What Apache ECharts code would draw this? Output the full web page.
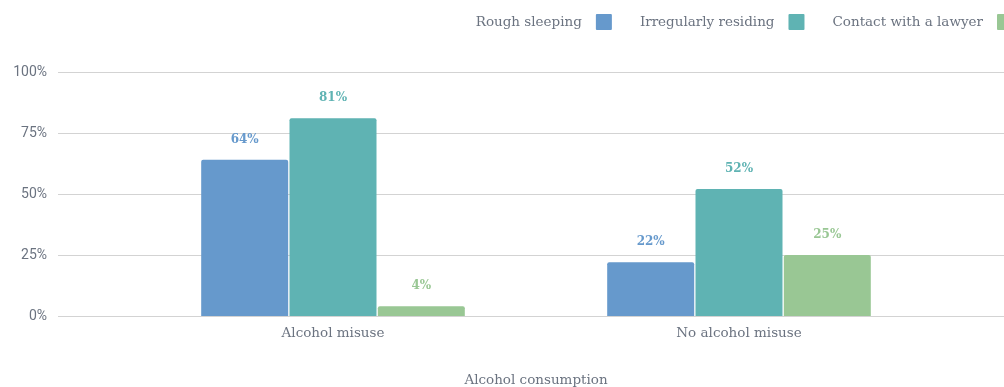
<!DOCTYPE html>
<html><head><meta charset="utf-8">
<script src="https://cdn.jsdelivr.net/npm/echarts@6/dist/echarts.min.js"></script>
<style>html,body{margin:0;padding:0;background:#fff;}#c{width:1004px;height:387px;}</style>
</head><body><div id="c"></div>
<script>
const categories = ['Alcohol misuse', 'No alcohol misuse'];
const seriesNames = ['Rough sleeping', 'Irregularly residing', 'Contact with a lawyer'];
const roughSleeping = [64, 22];
const irregularlyResiding = [81, 52];
const contactLawyer = [4, 25];
const yTicks = [0, 25, 50, 75, 100];
const colors = ['#6699cc', '#5fb3b3', '#99c794'];
const serif = '"DejaVu Serif", serif';
const values = [roughSleeping, irregularlyResiding, contactLawyer];

const chart = echarts.init(document.getElementById('c'));
chart.setOption({
  animation: false,
  color: colors,
  legend: {
    top: 9, right: -14, align: 'right', itemWidth: 16, itemHeight: 16, itemGap: 28,
    icon: 'path://M1,0 L15,0 Q16,0 16,1 L16,15 Q16,16 15,16 L1,16 Q0,16 0,15 L0,1 Q0,0 1,0 Z',
    textStyle: { fontFamily: serif, fontSize: 13.5, color: '#6b7380', padding: [0, 9, 0, 0] },
    data: seriesNames
  },
  grid: [
    { left: 58, right: 0, top: 72, bottom: 71, outerBoundsMode: 'none' },
    { left: 130, right: 62, top: 72, bottom: 71, outerBoundsMode: 'none' }
  ],
  xAxis: [
    { gridIndex: 0, type: 'value', show: false, min: 0, max: 1 },
    { gridIndex: 1, type: 'category', data: categories,
      axisLine: { show: false }, axisTick: { show: false },
      axisLabel: { fontFamily: serif, fontSize: 13.5, color: '#6b7380', margin: 10 },
      name: 'Alcohol consumption', nameLocation: 'middle', nameGap: 57,
      nameTextStyle: { fontFamily: serif, fontSize: 13.5, color: '#6b7380' } }
  ],
  yAxis: [
    { gridIndex: 0, type: 'value', min: yTicks[0], max: yTicks[yTicks.length - 1], interval: 25,
      axisLine: { show: false }, axisTick: { show: false },
      axisLabel: { formatter: '{value}%', fontFamily: 'Roboto, sans-serif', fontSize: 14, color: '#6b7380', margin: 11 },
      splitLine: { lineStyle: { color: '#d3d3d3', width: 1 } } },
    { gridIndex: 1, type: 'value', min: 0, max: 100, show: false, splitLine: { show: false } }
  ],
  series: seriesNames.map((n, i) => ({
    name: n, type: 'bar', xAxisIndex: 1, yAxisIndex: 1,
    data: values[i], barWidth: 87, barGap: '1.5%',
    itemStyle: { color: colors[i], borderRadius: [2, 2, 0, 0] },
    label: { show: true, position: 'top', distance: 14, formatter: '{c}%',
      fontFamily: serif, fontWeight: 'bold', fontSize: 12, color: colors[i] }
  }))
});
</script></body></html>
